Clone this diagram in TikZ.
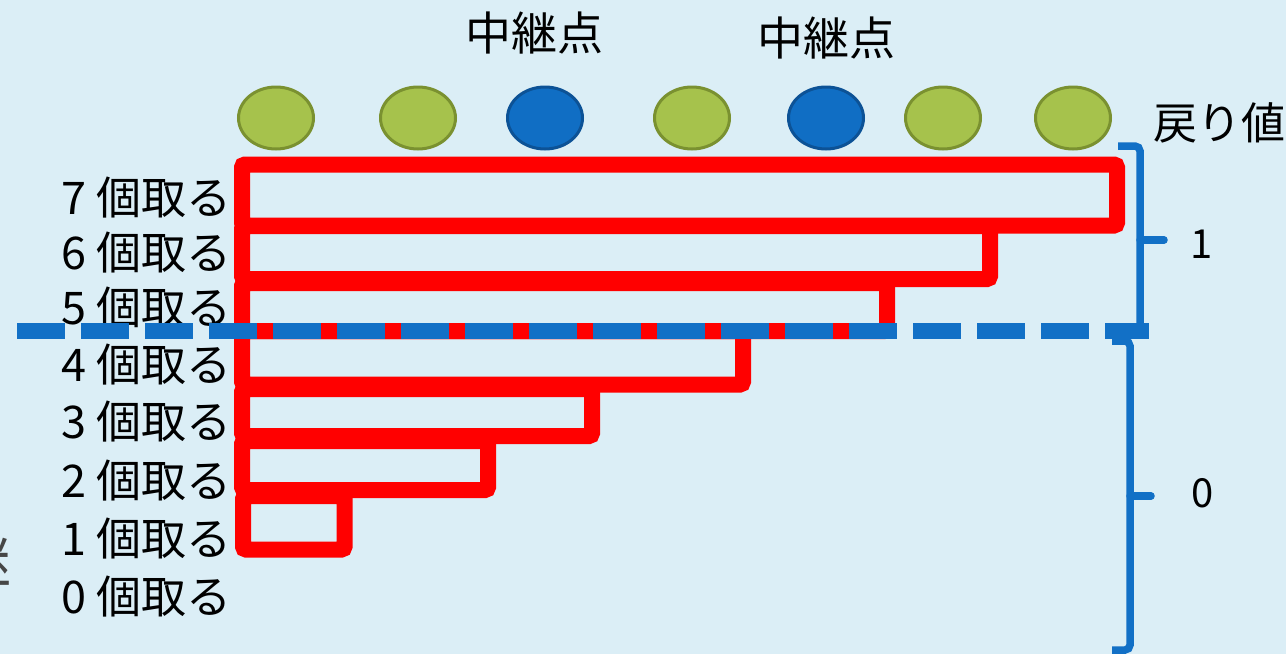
\documentclass[tikz,border=0pt]{standalone}
\usepackage{fontspec}
\setmainfont{Noto Sans CJK JP}
\usetikzlibrary{shapes.geometric}
\definecolor{bg}{RGB}{219,238,246}
\definecolor{grn}{RGB}{166,194,76}
\definecolor{grnb}{RGB}{122,145,48}
\definecolor{blu}{RGB}{16,110,196}
\definecolor{blub}{RGB}{12,82,150}
\definecolor{dblu}{RGB}{18,112,198}
\definecolor{cutgray}{RGB}{70,70,70}
\begin{document}
\begin{tikzpicture}[x=1pt,y=-1pt,
  lab/.style={anchor=base east, font=\fontsize{45}{48}\selectfont, inner sep=0pt},
  toplab/.style={anchor=base, font=\fontsize{46}{48}\selectfont, inner sep=0pt},
  retlab/.style={anchor=base, font=\fontsize{44}{48}\selectfont, inner sep=0pt},
  vallab/.style={anchor=base, font=\fontsize{40}{44}\selectfont, inner sep=0pt},
  dot/.style={ellipse, minimum width=75pt, minimum height=62pt, line width=3pt, inner sep=0pt},
  gdot/.style={dot, fill=grn, draw=grnb},
  bdot/.style={dot, fill=blu, draw=blub},
  bar/.style={draw=red, line width=16pt, rounded corners=3pt, inner sep=0pt, outer sep=0pt, anchor=north west},
  bracepath/.style={draw=dblu, line width=7.5pt, rounded corners=5pt},
  spur/.style={draw=dblu, line width=7.5pt, line cap=round},
  dashline/.style={draw=dblu, line width=16pt, dash pattern=on 47.5pt off 16.5pt}]
\fill[bg] (0,0) rectangle (1286,654);
\useasboundingbox (0,0) rectangle (1286,654);
% clipped character at left edge (as in the reference)
\node[anchor=base east, inner sep=0pt, text=cutgray, font=\fontsize{60}{64}\selectfont] (cut) at (12,583) {継};
% top labels
\node[toplab] (relay1) at (534,50) {中継点};
\node[toplab] (relay2) at (826,55) {中継点};
\node[retlab] (ret) at (1219,139) {戻り値};
% circles
\node[gdot] (c1) at (276,118) {};
\node[gdot] (c2) at (418,118) {};
\node[bdot] (c3) at (545,118) {};
\node[gdot] (c4) at (692,118) {};
\node[bdot] (c5) at (826,118) {};
\node[gdot] (c6) at (943,118) {};
\node[gdot] (c7) at (1073,118) {};
% red bars
\node[bar, minimum width=875pt, minimum height=61pt] (r7) at (242,164.5) {};
\node[bar, minimum width=748pt, minimum height=53pt] (r6) at (242,226) {};
\node[bar, minimum width=645pt, minimum height=48pt] (r5) at (242,283) {};
\node[bar, minimum width=501pt, minimum height=53.5pt] (r4) at (242,331) {};
\node[bar, minimum width=350pt, minimum height=47pt] (r3) at (242,389) {};
\node[bar, minimum width=246pt, minimum height=49pt] (r2) at (242,441) {};
\node[bar, minimum width=101.5pt, minimum height=53.5pt] (r1) at (243,496) {};
% row labels
\node[lab] (l7) at (232,214) {7 個取る};
\node[lab] (l6) at (232,269) {6 個取る};
\node[lab] (l5) at (232,324) {5 個取る};
\node[lab] (l4) at (232,381) {4 個取る};
\node[lab] (l3) at (232,438) {3 個取る};
\node[lab] (l2) at (232,497) {2 個取る};
\node[lab] (l1) at (232,555) {1 個取る};
\node[lab] (l0) at (232,613) {0 個取る};
% braces
\draw[bracepath] (1118,146) -- (1140,146) -- (1140,331) -- (1118,331);
\draw[spur] (1140,240) -- (1164,240);
\draw[bracepath] (1112,341) -- (1130,341) -- (1130,650) -- (1112,650);
\draw[spur] (1130,496) -- (1151,496);
\node[vallab] (v1) at (1202,258) {1};
\node[vallab] (v0) at (1203,507) {0};
% dashed divider
\coordinate (dl) at (17,331);
\coordinate (dr) at (1149,331);
\draw[dashline] (dl) -- (dr);
\end{tikzpicture}
\end{document}
